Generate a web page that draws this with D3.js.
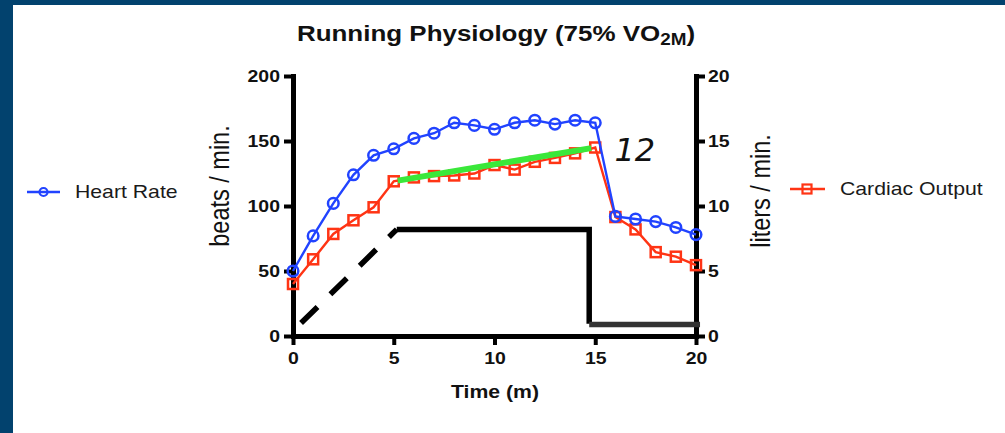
<!DOCTYPE html>
<html>
<head>
<meta charset="utf-8">
<script src="https://cdn.jsdelivr.net/npm/d3@7"></script>
<style>
  html, body { margin: 0; padding: 0; background: #ffffff; }
  svg { display: block; }
</style>
</head>
<body>
<svg id="chart" width="1005" height="433"></svg>
<script>
// Running physiology at 75% VO2max: heart rate (left axis) and cardiac output (right axis)
const time = [0, 1, 2, 3, 4, 5, 6, 7, 8, 9, 10, 11, 12, 13, 14, 15, 16, 17, 18, 19, 20];
const heartRate = [50, 77, 102, 124, 139, 144, 152, 156, 164, 162, 159, 164, 166, 163, 166, 164, 92, 90, 88, 83.5, 78];
const cardiacOutput = [4, 5.9, 7.85, 8.9, 9.9, 11.9, 12.2, 12.3, 12.35, 12.5, 13.15, 12.8, 13.4, 13.7, 14.05, 14.5, 9.15, 8.2, 6.45, 6.1, 5.45];

// linear trend drawn over the steady-state cardiac output
const trendTime = [5.2, 14.8];
const trendOutput = [11.95, 14.45];

// workload profile in right-axis units: ramp, plateau, stop, rest
const rampTime = [0.4, 5.15];
const rampLevel = [1.0, 8.2];
const plateauTime = [5.15, 14.7, 14.7];
const plateauLevel = [8.2, 8.2, 0.95];
const restTime = [14.7, 20.2];
const restLevel = [0.88, 0.88];

const timeTicks = [0, 5, 10, 15, 20];
const hrTicks = [0, 50, 100, 150, 200];
const coTicks = [0, 5, 10, 15, 20];

const seriesNames = ["Heart Rate", "Cardiac Output"];
const annotationText = "12";

const BLUE = "#2143ff";
const RED = "#ff3414";
const GREEN = "#3ae83a";
const FONT = "'Liberation Sans', Arial, Helvetica, sans-serif";
const SX = 1.18; // horizontal text widening

const svg = d3.select("#chart");

// frame
svg.append("rect").attr("x", 0).attr("y", 0).attr("width", 1005).attr("height", 433).attr("fill", "#ffffff");
svg.append("rect").attr("x", 0).attr("y", 0).attr("width", 1005).attr("height", 5).attr("fill", "#02426e");
svg.append("rect").attr("x", 0).attr("y", 0).attr("width", 13).attr("height", 433).attr("fill", "#02426e");

const x = d3.scaleLinear().domain([0, 20]).range([293, 696]);
const yL = d3.scaleLinear().domain([0, 200]).range([336, 76]);
const yR = d3.scaleLinear().domain([0, 20]).range([336, 76]);

function widen(sel) {
  sel.each(function () {
    const t = d3.select(this);
    const ax = +t.attr("x") || 0;
    t.attr("transform", `translate(${ax},0) scale(${SX},1) translate(${-ax},0)`);
  });
}

function styleAxis(g) {
  g.attr("font-family", FONT).attr("font-size", 16.5).attr("font-weight", "bold");
  g.select(".domain").attr("stroke", "#000").attr("stroke-width", 5).attr("stroke-linecap", "square");
  g.selectAll(".tick line").attr("stroke", "#000").attr("stroke-width", 4);
  g.selectAll(".tick text").attr("fill", "#111");
  widen(g.selectAll(".tick text"));
}

// axes
const gx = svg.append("g").attr("transform", "translate(0,336)")
  .call(d3.axisBottom(x).tickValues(timeTicks).tickSize(9).tickSizeOuter(0).tickPadding(7));
styleAxis(gx);

const gl = svg.append("g").attr("transform", "translate(293,0)")
  .call(d3.axisLeft(yL).tickValues(hrTicks).tickSize(9).tickSizeOuter(0).tickPadding(4));
styleAxis(gl);

const gr = svg.append("g").attr("transform", "translate(696,0)")
  .call(d3.axisRight(yR).tickValues(coTicks).tickSize(9).tickSizeOuter(0).tickPadding(3));
styleAxis(gr);

// workload profile
const ptsLine = d3.line().x(d => x(d[0])).y(d => yR(d[1]));
const zip = (a, b) => a.map((v, i) => [v, b[i]]);

svg.append("path").attr("d", ptsLine(zip(rampTime, rampLevel)))
  .attr("fill", "none").attr("stroke", "#000").attr("stroke-width", 5.5)
  .attr("stroke-dasharray", "23,18");
svg.append("path").attr("d", ptsLine(zip(plateauTime, plateauLevel)))
  .attr("fill", "none").attr("stroke", "#000").attr("stroke-width", 5.5)
  .attr("stroke-linejoin", "miter");
svg.append("path").attr("d", ptsLine(zip(restTime, restLevel)))
  .attr("fill", "none").attr("stroke", "#333333").attr("stroke-width", 5.5);

// cardiac output
const coData = time.map((t, i) => ({ t, v: cardiacOutput[i] }));
svg.append("path").datum(coData)
  .attr("d", d3.line().x(d => x(d.t)).y(d => yR(d.v)))
  .attr("fill", "none").attr("stroke", RED).attr("stroke-width", 2.4);
svg.append("g").selectAll("rect").data(coData).join("rect")
  .attr("x", d => x(d.t) - 5).attr("y", d => yR(d.v) - 5)
  .attr("width", 10).attr("height", 10)
  .attr("fill", "none").attr("stroke", RED).attr("stroke-width", 2.5);

// heart rate
const hrData = time.map((t, i) => ({ t, v: heartRate[i] }));
svg.append("path").datum(hrData)
  .attr("d", d3.line().x(d => x(d.t)).y(d => yL(d.v)))
  .attr("fill", "none").attr("stroke", BLUE).attr("stroke-width", 2.4);
svg.append("g").selectAll("circle").data(hrData).join("circle")
  .attr("cx", d => x(d.t)).attr("cy", d => yL(d.v)).attr("r", 5.3)
  .attr("fill", "none").attr("stroke", BLUE).attr("stroke-width", 2.5);

// trend line
svg.append("path").attr("d", ptsLine(zip(trendTime, trendOutput)))
  .attr("fill", "none").attr("stroke", GREEN).attr("stroke-width", 6);

// annotation
svg.append("text").attr("x", x(15.95)).attr("y", yR(13.45))
  .attr("font-family", "'DejaVu Sans', Verdana, sans-serif").attr("font-style", "italic")
  .attr("font-size", 32).attr("fill", "#111").text(annotationText);

// title
const title = svg.append("text").attr("x", 496).attr("y", 41)
  .attr("text-anchor", "middle").attr("font-family", FONT).attr("font-weight", "bold")
  .attr("font-size", 22).attr("fill", "#111");
title.append("tspan").text("Running Physiology (75% VO");
title.append("tspan").attr("font-size", 16).attr("dy", 4).text("2M");
title.append("tspan").attr("dy", -4).text(")");
widen(title);

// axis titles
const xt = svg.append("text").attr("x", 495).attr("y", 398).attr("text-anchor", "middle")
  .attr("font-family", FONT).attr("font-weight", "bold").attr("font-size", 18)
  .attr("fill", "#111").text("Time (m)");
widen(xt);

svg.append("text").attr("transform", `translate(229,186) scale(${SX},1) rotate(-90)`)
  .attr("text-anchor", "middle").attr("font-family", FONT).attr("font-size", 23.5)
  .attr("fill", "#111").text("beats / min.");
svg.append("text").attr("transform", `translate(770,191) scale(${SX},1) rotate(-90)`)
  .attr("text-anchor", "middle").attr("font-family", FONT).attr("font-size", 23.5)
  .attr("fill", "#111").text("liters / min.");

// legends
const lg1 = svg.append("g");
lg1.append("line").attr("x1", 27).attr("x2", 60).attr("y1", 192).attr("y2", 192)
  .attr("stroke", BLUE).attr("stroke-width", 2.5);
lg1.append("circle").attr("cx", 43.5).attr("cy", 192).attr("r", 4)
  .attr("fill", "none").attr("stroke", BLUE).attr("stroke-width", 2.2);
const lt1 = lg1.append("text").attr("x", 75).attr("y", 198.5)
  .attr("font-family", FONT).attr("font-size", 18).attr("fill", "#1a1a1a").text(seriesNames[0]);
widen(lt1);

const lg2 = svg.append("g");
lg2.append("line").attr("x1", 790).attr("x2", 825).attr("y1", 189).attr("y2", 189)
  .attr("stroke", RED).attr("stroke-width", 2.5);
lg2.append("rect").attr("x", 802.5).attr("y", 184.5).attr("width", 9).attr("height", 9)
  .attr("fill", "none").attr("stroke", RED).attr("stroke-width", 2.2);
const lt2 = lg2.append("text").attr("x", 840).attr("y", 195.5)
  .attr("font-family", FONT).attr("font-size", 18).attr("fill", "#1a1a1a").text(seriesNames[1]);
widen(lt2);
</script>
</body>
</html>
